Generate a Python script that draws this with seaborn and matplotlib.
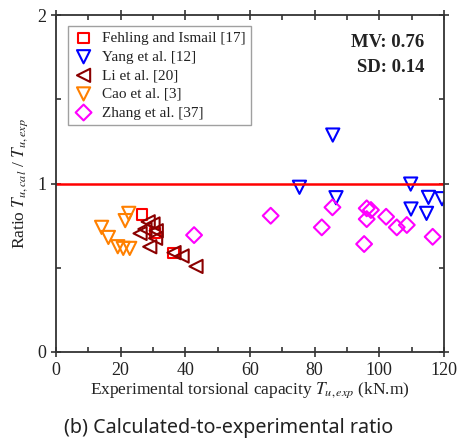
import numpy as np
import pandas as pd
import seaborn as sns
import matplotlib.pyplot as plt
from matplotlib.ticker import MultipleLocator

# 数据
fehling_x = [26.5, 30.6, 36.3]
fehling_y = [0.817, 0.708, 0.586]

yang_x = [75.3, 85.6, 86.6, 109.7, 109.8, 115.2, 114.6, 119.4]
yang_y = [0.978, 1.288, 0.916, 0.997, 0.849, 0.918, 0.823, 0.91]

li_x = [26.0, 27.5, 28.5, 30.0, 31.0, 30.8, 29.0, 36.5, 39.0, 43.3]
li_y = [0.704, 0.730, 0.773, 0.760, 0.720, 0.675, 0.625, 0.590, 0.570, 0.508]

cao_x = [14.1, 16.2, 19.1, 20.8, 22.8, 21.4, 22.5]
cao_y = [0.740, 0.680, 0.625, 0.615, 0.615, 0.780, 0.823]

zhang_x = [42.7, 66.4, 82.2, 85.5, 95.3, 96.1, 96.1, 97.4, 102.1, 105.4, 108.5, 116.5]
zhang_y = [0.694, 0.809, 0.740, 0.859, 0.641, 0.789, 0.853, 0.843, 0.803, 0.740, 0.754, 0.684]

series = [
    ('Fehling and Ismail [17]', fehling_x, fehling_y, 's', '#FF0000', 55),
    ('Yang et al. [12]', yang_x, yang_y, 'v', '#0000FF', 90),
    ('Li et al. [20]', li_x, li_y, '<', '#8B0000', 90),
    ('Cao et al. [3]', cao_x, cao_y, 'v', '#FF8000', 90),
    ('Zhang et al. [37]', zhang_x, zhang_y, 'D', '#FF00FF', 65),
]

sns.set_style('ticks')
plt.rcParams['font.family'] = ['Liberation Serif', 'DejaVu Serif']
plt.rcParams['mathtext.fontset'] = 'stix'
txt = '#222222'

fig = plt.figure(figsize=(4.58, 4.45), dpi=100)
ax = fig.add_axes([0.1223, 0.209, 0.8471, 0.757])

for name, xs, ys, mk, c, s in series:
    df = pd.DataFrame({'x': xs, 'y': ys})
    sns.scatterplot(data=df, x='x', y='y', marker=mk, s=s, facecolors='none',
                    edgecolor=c, linewidth=1.5, label=name, ax=ax, clip_on=True)

ax.axhline(1, color='#FF0000', linewidth=1.8, zorder=1)

ax.set_xlim(0, 120)
ax.set_ylim(0, 2)
ax.xaxis.set_major_locator(MultipleLocator(20))
ax.xaxis.set_minor_locator(MultipleLocator(10))
ax.yaxis.set_major_locator(MultipleLocator(1))
ax.yaxis.set_minor_locator(MultipleLocator(0.5))
ax.tick_params(which='both', top=True, right=True, labelsize=13, width=1.2,
               color='#333333', labelcolor=txt)
ax.tick_params(which='major', direction='inout', length=7)
ax.tick_params(which='minor', direction='in', length=3.5)
for sp in ax.spines.values():
    sp.set_linewidth(1.3)
    sp.set_color('#333333')

ax.set_xlabel('Experimental torsional capacity $T_{u,exp}$ (kN.m)', fontsize=12.5,
              labelpad=1, color=txt)
ax.set_ylabel('Ratio $T_{u,cal}$ / $T_{u,exp}$', fontsize=12.5, labelpad=5, color=txt)

ax.text(0.95, 0.918, 'MV: 0.76', transform=ax.transAxes, ha='right', va='center',
        fontsize=13.5, fontweight='bold', color=txt)
ax.text(0.95, 0.846, 'SD: 0.14', transform=ax.transAxes, ha='right', va='center',
        fontsize=13.5, fontweight='bold', color=txt)

leg = ax.legend(loc='upper left', fontsize=11, frameon=True, fancybox=False,
                edgecolor='#888888', handlelength=1.4, handletextpad=0.5,
                labelspacing=0.32, borderpad=0.35, bbox_to_anchor=(0.01, 0.99),
                labelcolor=txt)
leg.get_frame().set_linewidth(1.0)

fig.text(0.5, 0.038, '(b) Calculated-to-experimental ratio', ha='center', va='center',
         fontsize=14.2, family=['Noto Sans', 'DejaVu Sans'], color=txt)

plt.savefig('out.png', dpi=100)
